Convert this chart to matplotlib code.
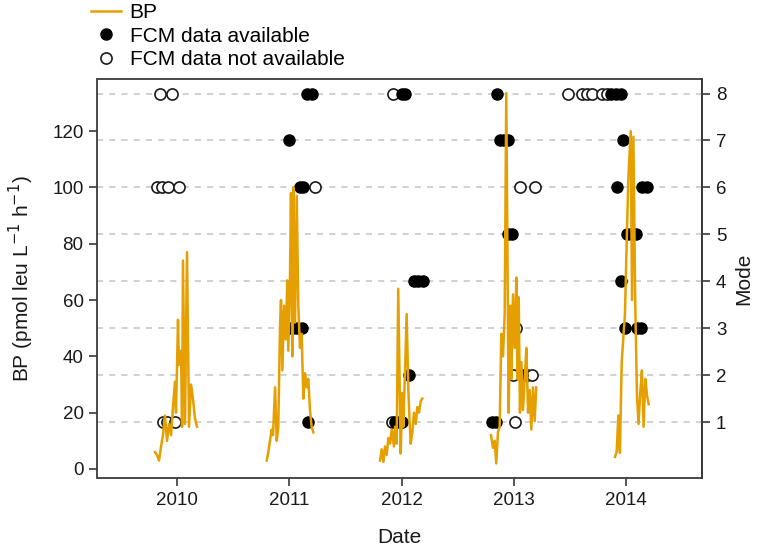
import numpy as np
import matplotlib
matplotlib.use("Agg")
import matplotlib.pyplot as plt
from matplotlib.lines import Line2D

plt.rcParams['font.family'] = ['Liberation Sans', 'DejaVu Sans']

# ---------------- data ----------------
# BP series per season (decimal year, BP)
bp_2010_t = [2009.804, 2009.822, 2009.840, 2009.858, 2009.875, 2009.893, 2009.911, 2009.929,
             2009.947, 2009.964, 2009.982, 2009.991, 2010.009, 2010.018, 2010.036, 2010.045,
             2010.053, 2010.071, 2010.089, 2010.107, 2010.125, 2010.142, 2010.160, 2010.178]
bp_2010_v = [6, 5, 3, 8, 12, 19, 10, 16, 12, 22, 31, 20, 53, 37, 42, 15, 74, 16, 77, 15, 30, 25, 18, 15]

bp_2011_t = [2010.799, 2010.813, 2010.828, 2010.843, 2010.855, 2010.873, 2010.888, 2010.902,
             2010.917, 2010.926, 2010.938, 2010.953, 2010.968, 2010.982, 2010.991, 2011.006,
             2011.015, 2011.027, 2011.036, 2011.051, 2011.066, 2011.080, 2011.095, 2011.110,
             2011.125, 2011.140, 2011.155, 2011.169, 2011.184, 2011.199, 2011.214]
bp_2011_v = [3, 6, 10, 14, 12, 29, 10, 15, 50, 60, 35, 58, 46, 67, 42, 68, 98, 40, 100, 52, 97,
             58, 43, 48, 25, 34, 29, 32, 21, 15, 13]

bp_2012_t = [2011.808, 2011.823, 2011.838, 2011.852, 2011.867, 2011.882, 2011.897, 2011.912,
             2011.932, 2011.941, 2011.956, 2011.970, 2011.992, 2012.006, 2012.015, 2012.030,
             2012.045, 2012.060, 2012.071, 2012.081, 2012.096, 2012.110, 2012.126, 2012.140,
             2012.155, 2012.170, 2012.184]
bp_2012_v = [3, 7, 2.5, 8, 5, 11, 9, 14, 8, 15, 9, 64, 5.5, 27, 15, 34, 55, 28, 17, 9, 13, 20,
             16, 22, 20, 24, 25]

bp_2013_t = [2012.796, 2012.814, 2012.829, 2012.843, 2012.858, 2012.873, 2012.888, 2012.903,
             2012.918, 2012.932, 2012.953, 2012.968, 2012.977, 2012.992, 2013.007, 2013.022,
             2013.031, 2013.043, 2013.054, 2013.066, 2013.081, 2013.096, 2013.111, 2013.126,
             2013.141, 2013.155, 2013.170, 2013.185, 2013.199]
bp_2013_v = [12, 7.5, 10, 2, 13, 15, 48, 40, 55, 133.5, 20, 58, 32, 62, 43, 68, 32, 61, 20, 38,
             21, 32, 43, 20, 28, 14, 29, 17, 29]

bp_2014_t = [2013.900, 2013.915, 2013.930, 2013.944, 2013.960, 2013.975, 2013.989, 2014.004,
             2014.019, 2014.040, 2014.052, 2014.064, 2014.080, 2014.096, 2014.110, 2014.125,
             2014.140, 2014.155, 2014.170, 2014.186, 2014.200]
bp_2014_v = [4.3, 6, 19, 5.7, 38, 47, 55, 80, 103, 120, 60, 118, 60, 26, 16, 27, 35, 15, 32, 26, 23]

# Mode points: FCM data available (filled)
fcm_yes_t = [2011.158, 2011.202, 2012.004, 2012.030, 2012.850, 2013.865, 2013.909, 2013.954,
             2010.997, 2012.876, 2012.912, 2012.947, 2013.972,
             2011.095, 2011.122, 2013.918, 2014.140, 2014.185,
             2012.947, 2012.983, 2014.007, 2014.043, 2014.087,
             2012.110, 2012.146, 2012.191, 2013.954,
             2010.962, 2010.997, 2011.033, 2011.069, 2011.113, 2013.989, 2014.096, 2014.131,
             2012.066, 2013.072,
             2011.167, 2011.941, 2011.977, 2012.004, 2012.805, 2012.841]
fcm_yes_mode = [8, 8, 8, 8, 8, 8, 8, 8,
                7, 7, 7, 7, 7,
                6, 6, 6, 6, 6,
                5, 5, 5, 5, 5,
                4, 4, 4, 4,
                3, 3, 3, 3, 3, 3, 3, 3,
                2, 2,
                1, 1, 1, 1, 1, 1]

# Mode points: FCM data not available (open)
fcm_no_t = [2009.849, 2009.955, 2011.923, 2013.482, 2013.606, 2013.651, 2013.695, 2013.784, 2013.829,
            2009.822, 2009.866, 2009.920, 2010.018, 2011.229, 2013.054, 2013.188,
            2013.019,
            2012.992, 2013.117, 2013.161,
            2009.875, 2009.911, 2009.982, 2011.915, 2013.010]
fcm_no_mode = [8, 8, 8, 8, 8, 8, 8, 8, 8,
               6, 6, 6, 6, 6, 6, 6,
               3,
               2, 2, 2,
               1, 1, 1, 1, 1]

year_ticks = [2010, 2011, 2012, 2013, 2014]
bp_ticks = [0, 20, 40, 60, 80, 100, 120]
mode_ticks = [1, 2, 3, 4, 5, 6, 7, 8]

# ---------------- plot ----------------
K = 133.33 / 8.0   # mode -> BP scale
orange = '#E69F00'
boxcol = '#3a3a3a'
txtcol = '#1a1a1a'

fig = plt.figure(figsize=(7.75, 5.51), dpi=100)
ax = fig.add_axes([97.5 / 775, (551 - 478) / 551, (702 - 97.5) / 775, (478 - 79) / 551])

for m in mode_ticks:
    ax.axhline(m * K, color='#c4c4c4', lw=1.1, ls=(0, (4, 4)), zorder=1)

ax.scatter(fcm_no_t, np.array(fcm_no_mode) * K, s=64, facecolors='white',
           edgecolors='#1a1a1a', linewidths=1.2, zorder=3)
ax.scatter(fcm_yes_t, np.array(fcm_yes_mode) * K, s=64, facecolors='black',
           edgecolors='black', linewidths=1.0, zorder=3)

for t, v in [(bp_2010_t, bp_2010_v), (bp_2011_t, bp_2011_v), (bp_2012_t, bp_2012_v),
             (bp_2013_t, bp_2013_v), (bp_2014_t, bp_2014_v)]:
    ax.plot(t, v, color=orange, lw=1.8, zorder=4, solid_joinstyle='round')

ax.set_xlim(2009.292, 2014.675)
ax.set_ylim(-3.2, 138.5)
ax.set_xticks(year_ticks)
ax.set_xticklabels([str(y) for y in year_ticks])
ax.set_yticks(bp_ticks)

for s in ax.spines.values():
    s.set_color(boxcol)
    s.set_linewidth(1.3)

ax.tick_params(axis='both', direction='out', length=6, width=1.2, color=boxcol,
               labelsize=13.5, labelcolor=txtcol, pad=4)

sec = ax.secondary_yaxis('right', functions=(lambda y: y / K, lambda m: m * K))
sec.set_yticks(mode_ticks)
sec.tick_params(axis='y', direction='out', length=6, width=1.2, color=boxcol,
                labelsize=13.5, labelcolor=txtcol, pad=4)
sec.spines['right'].set_color(boxcol)
sec.spines['right'].set_linewidth(1.3)
sec.set_ylabel('Mode', fontsize=15, color=txtcol, labelpad=6)

ax.set_xlabel('Date', fontsize=15, color=txtcol, labelpad=14)
ax.set_ylabel('BP (pmol leu L$^{-1}$ h$^{-1}$)', fontsize=15, color=txtcol, labelpad=12)

handles = [Line2D([], [], color=orange, lw=1.8),
           Line2D([], [], ls='none', marker='o', ms=8, mfc='black', mec='black'),
           Line2D([], [], ls='none', marker='o', ms=8, mfc='white', mec='#1a1a1a', mew=1.2)]
fig.legend(handles, ['BP', 'FCM data available', 'FCM data not available'],
           loc='upper left', bbox_to_anchor=(89 / 775, 1.0 - 1 / 551), frameon=False,
           fontsize=15, handlelength=1.45, handletextpad=0.4, labelspacing=0.22,
           borderpad=0.1, borderaxespad=0.0)

fig.savefig('out.png', dpi=100)
